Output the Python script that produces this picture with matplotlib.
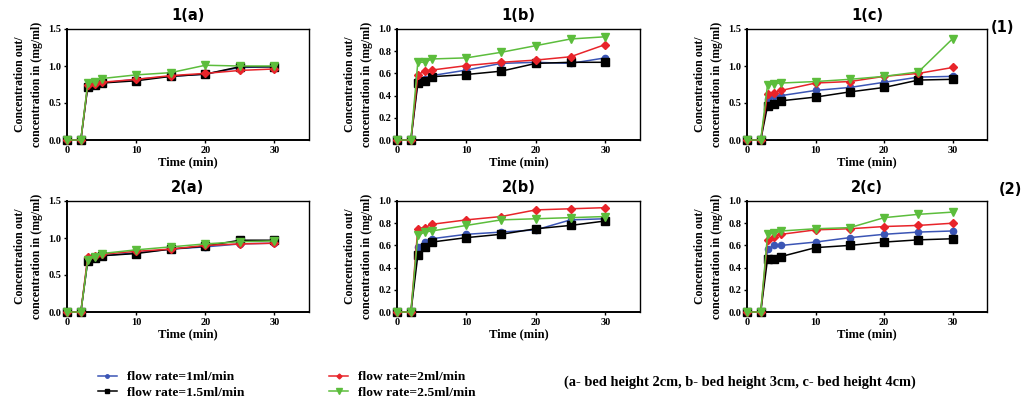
import matplotlib
matplotlib.use("Agg")
import matplotlib.pyplot as plt
from matplotlib.lines import Line2D

time = [0, 2, 3, 4, 5, 10, 15, 20, 25, 30]

series_names = ["flow rate=1ml/min", "flow rate=1.5ml/min", "flow rate=2ml/min", "flow rate=2.5ml/min"]

# panel 1(a)
p1a_1 = [0, 0, 0.73, 0.75, 0.77, 0.82, 0.86, 0.89, 0.98, 0.99]
p1a_15 = [0, 0, 0.72, 0.74, 0.77, 0.80, 0.86, 0.89, 0.99, 0.99]
p1a_2 = [0, 0, 0.75, 0.76, 0.78, 0.82, 0.87, 0.90, 0.94, 0.96]
p1a_25 = [0, 0, 0.77, 0.79, 0.83, 0.88, 0.91, 1.01, 1.00, 1.00]
# panel 1(b)
p1b_1 = [0, 0, 0.54, 0.55, 0.58, 0.63, 0.69, 0.70, 0.69, 0.74]
p1b_15 = [0, 0, 0.51, 0.53, 0.57, 0.59, 0.62, 0.69, 0.70, 0.70]
p1b_2 = [0, 0, 0.59, 0.62, 0.63, 0.67, 0.70, 0.72, 0.75, 0.86]
p1b_25 = [0, 0, 0.70, 0.70, 0.73, 0.74, 0.79, 0.85, 0.91, 0.93]
# panel 1(c)
p1c_1 = [0, 0, 0.56, 0.59, 0.60, 0.67, 0.71, 0.78, 0.85, 0.86]
p1c_15 = [0, 0, 0.46, 0.49, 0.53, 0.58, 0.65, 0.71, 0.81, 0.82]
p1c_2 = [0, 0, 0.62, 0.64, 0.67, 0.77, 0.79, 0.86, 0.90, 0.98]
p1c_25 = [0, 0, 0.75, 0.76, 0.77, 0.79, 0.82, 0.86, 0.92, 1.37]
# panel 2(a)
p2a_1 = [0, 0, 0.71, 0.73, 0.76, 0.80, 0.85, 0.88, 0.92, 0.93]
p2a_15 = [0, 0, 0.69, 0.73, 0.76, 0.79, 0.85, 0.89, 0.97, 0.97]
p2a_2 = [0, 0, 0.75, 0.76, 0.78, 0.82, 0.85, 0.90, 0.92, 0.93]
p2a_25 = [0, 0, 0.70, 0.75, 0.79, 0.84, 0.88, 0.92, 0.95, 0.96]
# panel 2(b)
p2b_1 = [0, 0, 0.59, 0.63, 0.66, 0.70, 0.72, 0.74, 0.83, 0.84]
p2b_15 = [0, 0, 0.51, 0.59, 0.63, 0.67, 0.70, 0.75, 0.78, 0.82]
p2b_2 = [0, 0, 0.75, 0.76, 0.79, 0.83, 0.86, 0.92, 0.93, 0.94]
p2b_25 = [0, 0, 0.69, 0.72, 0.73, 0.78, 0.83, 0.84, 0.85, 0.86]
# panel 2(c)
p2c_1 = [0, 0, 0.57, 0.60, 0.60, 0.63, 0.67, 0.70, 0.72, 0.73]
p2c_15 = [0, 0, 0.48, 0.48, 0.50, 0.58, 0.60, 0.63, 0.65, 0.66]
p2c_2 = [0, 0, 0.65, 0.68, 0.70, 0.74, 0.75, 0.77, 0.78, 0.80]
p2c_25 = [0, 0, 0.70, 0.71, 0.73, 0.75, 0.76, 0.85, 0.88, 0.90]

panel_titles = ["1(a)", "1(b)", "1(c)", "2(a)", "2(b)", "2(c)"]
panel_data = [
    [p1a_1, p1a_15, p1a_2, p1a_25],
    [p1b_1, p1b_15, p1b_2, p1b_25],
    [p1c_1, p1c_15, p1c_2, p1c_25],
    [p2a_1, p2a_15, p2a_2, p2a_25],
    [p2b_1, p2b_15, p2b_2, p2b_25],
    [p2c_1, p2c_15, p2c_2, p2c_25],
]
panel_ymax = [1.5, 1.0, 1.5, 1.5, 1.0, 1.0]
yticks_15 = [0.0, 0.5, 1.0, 1.5]
yticks_10 = [0.0, 0.2, 0.4, 0.6, 0.8, 1.0]
xticks = [0, 10, 20, 30]

colors = ["#3b55b5", "#000000", "#e8242a", "#5cbd3c"]
markers = ["o", "s", "D", "v"]
msizes = [4.5, 5.5, 4.5, 6]

W, H = 1027, 399
fig = plt.figure(figsize=(W / 100, H / 100), dpi=100)

col_lefts = [67, 397, 747]
col_widths = [242, 243, 240]
row_tops = [29, 201]
ax_h = 111

serif = "Liberation Serif"

axes = []
for i in range(6):
    r, c = divmod(i, 3)
    left = col_lefts[c] / W
    bottom = 1 - (row_tops[r] + ax_h) / H
    ax = fig.add_axes([left, bottom, col_widths[c] / W, ax_h / H])
    axes.append(ax)
    for k, ys in enumerate(panel_data[i]):
        ax.plot(time, ys, color=colors[k], marker=markers[k], markersize=msizes[k],
                linewidth=1.1, clip_on=False, zorder=3 + k)
    ax.set_xlim(0, 35)
    ax.set_ylim(0, panel_ymax[i])
    ax.set_xticks(xticks)
    ax.set_yticks(yticks_15 if panel_ymax[i] == 1.5 else yticks_10)
    ax.yaxis.set_major_formatter(matplotlib.ticker.FormatStrFormatter("%.1f"))
    for lab in ax.get_xticklabels() + ax.get_yticklabels():
        lab.set_fontfamily(serif)
        lab.set_fontweight("bold")
        lab.set_fontsize(7.5)
    ax.tick_params(direction="out", length=2.5, width=1, pad=1.5)
    for s in ax.spines.values():
        s.set_linewidth(1.0)
    ax.spines["left"].set_linewidth(1.4)
    ax.spines["bottom"].set_linewidth(1.4)
    ax.set_title(panel_titles[i], fontsize=10.5, fontweight="bold", family="DejaVu Sans", pad=6.5)
    ax.set_xlabel("Time (min)", fontsize=9, fontweight="bold", family=serif, labelpad=1)
    ax.set_ylabel("Concentration out/\nconcentration in (mg/ml)", fontsize=8.5,
                  fontweight="bold", family=serif, labelpad=4, linespacing=1.5)

fig.text(1002 / W, 1 - 27 / H, "(1)", fontsize=10.5, fontweight="bold", family="DejaVu Sans",
         ha="center", va="center")
fig.text(1010 / W, 1 - 190 / H, "(2)", fontsize=10.5, fontweight="bold", family="DejaVu Sans",
         ha="center", va="center")

handles = [Line2D([], [], color=colors[k], marker=markers[k], markersize=msizes[k] - 2,
                  linewidth=1.1) for k in range(4)]
fig.legend(handles, series_names, loc="upper left", bbox_to_anchor=(98 / W, 1 - 371 / H),
           ncol=2, frameon=False, handlelength=1.4, handletextpad=0.75, columnspacing=6.3,
           labelspacing=0.2, borderpad=0, borderaxespad=0,
           prop={"family": serif, "weight": "bold", "size": 9.7})

fig.text(564 / W, 1 - 382 / H, "(a- bed height 2cm, b- bed height 3cm, c- bed height 4cm)",
         fontsize=10.4, fontweight="bold", family=serif, ha="left", va="center")

fig.savefig("out.png", dpi=100)
